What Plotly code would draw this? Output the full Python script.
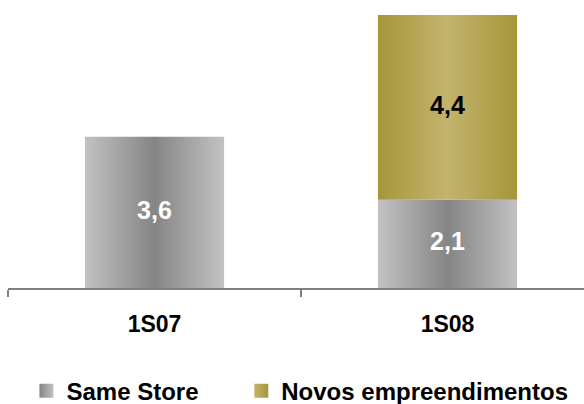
import plotly.graph_objects as go

# Values per period (R$ milhões), stacked per category
categories = ["1S07", "1S08"]
same_store = [3.6, 2.1]
novos_empreendimentos = [0.0, 4.4]
series_names = ["Same Store", "Novos empreendimentos"]

# Styling
BAR_W = 0.475
CAT_PX = 293  # pixel width of one category slot
FONT = "Liberation Sans"
GRAY_EDGE, GRAY_MID = "#c2c2c2", "#858585"
GOLD_EDGE, GOLD_MID = "#a6963a", "#c3b46e"
AXIS_COLOR = "#808080"

series = [
    (series_names[0], same_store, GRAY_EDGE, GRAY_MID, "white", "legend"),
    (series_names[1], novos_empreendimentos, GOLD_EDGE, GOLD_MID, "black", "legend2"),
]

fig = go.Figure()

base = [0.0] * len(categories)
for name, values, edge, mid, txt_color, leg in series:
    lab_x, lab_y, lab_t = [], [], []
    for i, v in enumerate(values):
        if not v:
            continue
        x0, x1 = i - BAR_W / 2, i + BAR_W / 2
        y0, y1 = base[i], base[i] + v
        fig.add_trace(go.Scatter(
            x=[x0, x1, x1, x0, x0], y=[y0, y0, y1, y1, y0],
            mode="lines", fill="toself", line=dict(width=0),
            fillgradient=dict(type="horizontal",
                              colorscale=[[0, edge], [0.5, mid], [1, edge]]),
            showlegend=False, hoverinfo="skip",
        ))
        lab_x.append(i)
        lab_y.append((y0 + y1) / 2)
        lab_t.append(f"{v:.1f}".replace(".", ","))
        base[i] = y1
    fig.add_trace(go.Scatter(
        x=lab_x, y=lab_y, text=lab_t, mode="text",
        textfont=dict(family=FONT, size=25, color=txt_color, weight="bold"),
        showlegend=False, hoverinfo="skip",
    ))
    # legend entry
    fig.add_trace(go.Scatter(
        x=[None], y=[None], mode="markers", name=name, legend=leg,
        marker=dict(symbol="square", size=14, color=mid,
                    gradient=dict(type="horizontal", color=edge)),
    ))

legend_style = dict(orientation="h", xanchor="left", y=-0.378, yanchor="middle",
                    font=dict(family=FONT, size=24, color="black", weight="bold"),
                    itemclick=False, bgcolor="rgba(0,0,0,0)")

fig.update_layout(
    width=584, height=404,
    margin=dict(l=8, r=0, t=15, b=116, autoexpand=False),
    paper_bgcolor="white", plot_bgcolor="white",
    showlegend=True,
    legend=dict(x=0.032, **legend_style),
    legend2=dict(x=0.405, **legend_style),
    xaxis=dict(range=[-0.5, -0.5 + 576 / CAT_PX], tickvals=list(range(len(categories))),
               ticktext=categories, ticks="", showgrid=False, zeroline=False,
               showline=True, linecolor=AXIS_COLOR, linewidth=2,
               tickfont=dict(family=FONT, size=23, color="black", weight="bold"),
               ticklabelstandoff=14,
               minor=dict(tickvals=[-0.5, 0.5, 1.5], ticks="outside", ticklen=7,
                          tickcolor=AXIS_COLOR, tickwidth=2, showgrid=False)),
    yaxis=dict(range=[0, 6.5], visible=False, fixedrange=True),
)

fig.write_html("out.html")
